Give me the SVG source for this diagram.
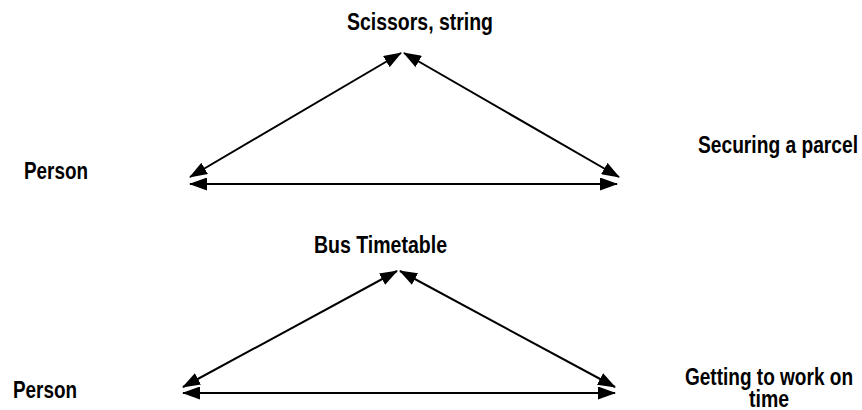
<svg xmlns="http://www.w3.org/2000/svg" width="862" height="410" viewBox="0 0 862 410">
<defs>
<style>
.lbl{font-family:"Liberation Sans",Arial,sans-serif;font-weight:bold;font-size:23px;fill:#000}
.cn{stroke:#000;stroke-width:2;fill:none;marker-start:url(#ah);marker-end:url(#ah)}
</style>
<marker id="ah" markerUnits="userSpaceOnUse" markerWidth="18" markerHeight="13" refX="17" refY="6.5" orient="auto-start-reverse" viewBox="0 0 18 13">
<path d="M0,0 L18,6.5 L0,13 z" fill="#000"/>
</marker>
</defs>
<rect width="862" height="410" fill="#fff"/>
<g id="connectors">
<line class="cn" x1="190" y1="177" x2="401" y2="53"/>
<line class="cn" x1="404" y1="53" x2="619" y2="177"/>
<line class="cn" x1="190" y1="184" x2="617" y2="184"/>
<line class="cn" x1="183" y1="387" x2="397" y2="271"/>
<line class="cn" x1="400" y1="271" x2="615" y2="387"/>
<line class="cn" x1="183" y1="393" x2="615" y2="393"/>
</g>
<g id="scissors"><text class="lbl" x="347" y="30" textLength="146" lengthAdjust="spacingAndGlyphs">Scissors, string</text></g>
<g id="person1"><text class="lbl" x="24" y="179" textLength="64" lengthAdjust="spacingAndGlyphs">Person</text></g>
<g id="parcel"><text class="lbl" x="698" y="153" textLength="160" lengthAdjust="spacingAndGlyphs">Securing a parcel</text></g>
<g id="bus"><text class="lbl" x="314" y="253" textLength="133" lengthAdjust="spacingAndGlyphs">Bus Timetable</text></g>
<g id="person2"><text class="lbl" x="13" y="398" textLength="64" lengthAdjust="spacingAndGlyphs">Person</text></g>
<g id="work"><text class="lbl" x="685" y="385" textLength="168" lengthAdjust="spacingAndGlyphs">Getting to work on</text><text class="lbl" x="749" y="407" textLength="40" lengthAdjust="spacingAndGlyphs">time</text></g>
</svg>
